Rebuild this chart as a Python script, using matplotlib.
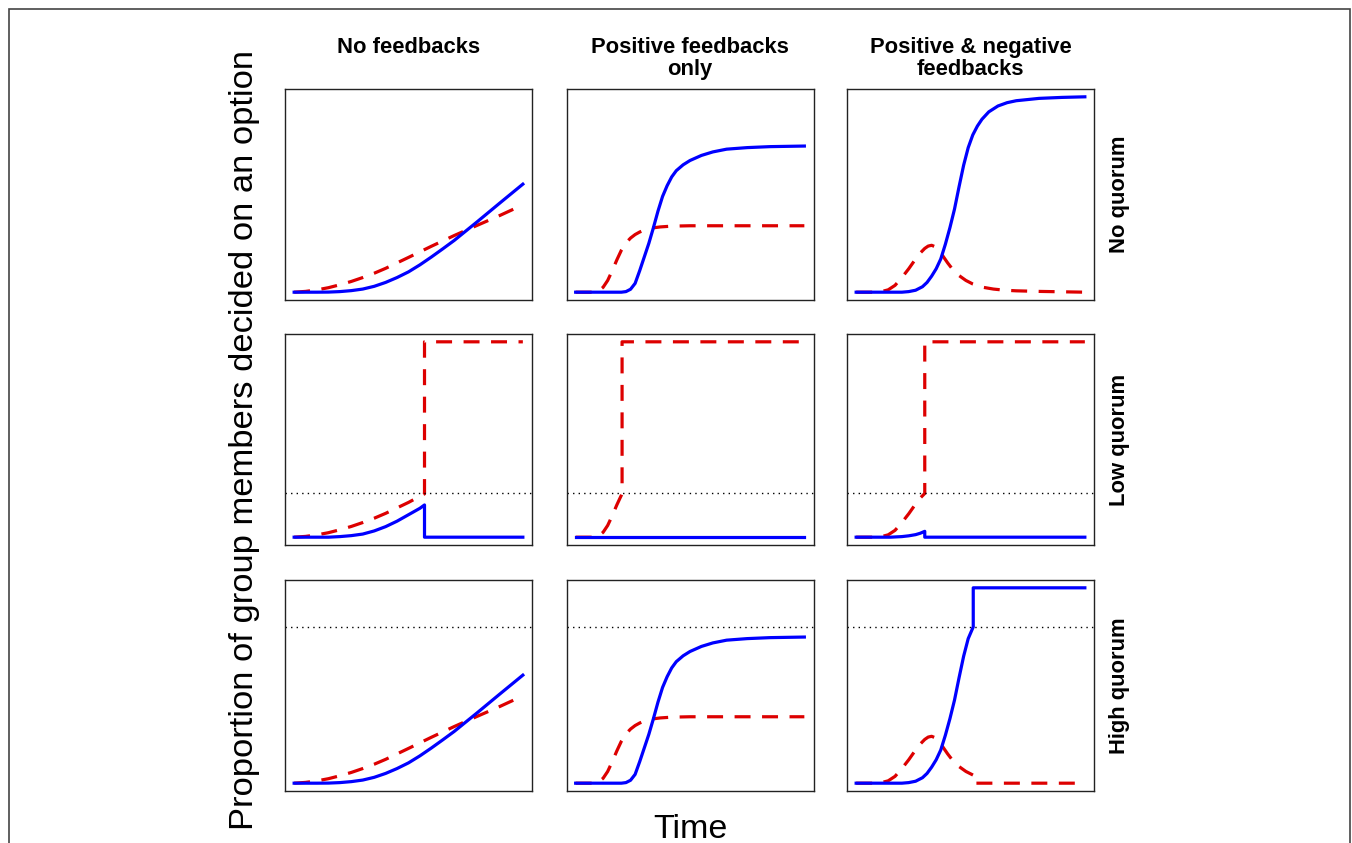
import matplotlib.pyplot as plt
from matplotlib.patches import Rectangle

plt.rcParams['font.family'] = ['Liberation Sans', 'DejaVu Sans']

col_titles = ['No feedbacks', 'Positive feedbacks\nonly',
              'Positive & negative\nfeedbacks']
row_titles = ['No quorum', 'Low quorum', 'High quorum']
quorum = [None, 0.224, 0.80]   # dotted threshold per row

# --- no feedbacks (no quorum / high quorum look the same) ---
nf_blue_t = [0, 0.1, 0.15, 0.2, 0.25, 0.3, 0.35, 0.4, 0.45, 0.5, 0.55, 0.6,
             0.65, 0.7, 0.8, 0.9, 1.0]
nf_blue_y = [0, 0, 0.0005, 0.003, 0.008, 0.016, 0.03, 0.05, 0.075, 0.104,
             0.14, 0.18, 0.222, 0.265, 0.36, 0.457, 0.553]
nf_red_t = [0, 0.05, 0.1, 0.15, 0.2, 0.25, 0.3, 0.35, 0.4, 0.5, 0.6, 0.7,
            0.8, 0.9, 1.0]
nf_red_y = [0, 0.004, 0.012, 0.023, 0.038, 0.055, 0.075, 0.097, 0.122,
            0.178, 0.235, 0.29, 0.342, 0.393, 0.447]

# --- positive feedbacks only ---
pf_blue_t = [0, 0.2, 0.22, 0.24, 0.26, 0.28, 0.3, 0.32, 0.34, 0.36, 0.38,
             0.4, 0.42, 0.44, 0.47, 0.5, 0.55, 0.6, 0.66, 0.75, 0.85, 1.0]
pf_blue_y = [0, 0, 0.003, 0.015, 0.045, 0.11, 0.18, 0.25, 0.33, 0.415, 0.49,
             0.545, 0.59, 0.622, 0.652, 0.674, 0.70, 0.718, 0.732, 0.74,
             0.745, 0.748]
pf_red_t = [0, 0.08, 0.1, 0.12, 0.14, 0.16, 0.18, 0.2, 0.22, 0.24, 0.26,
            0.28, 0.3, 0.33, 0.37, 0.42, 0.5, 1.0]
pf_red_y = [0, 0, 0.006, 0.025, 0.06, 0.11, 0.165, 0.215, 0.252, 0.277,
            0.295, 0.308, 0.318, 0.328, 0.334, 0.338, 0.34, 0.34]

# --- positive & negative feedbacks ---
pn_blue_t = [0, 0.2, 0.23, 0.26, 0.29, 0.31, 0.33, 0.35, 0.37, 0.39, 0.41,
             0.43, 0.45, 0.47, 0.49, 0.51, 0.53, 0.55, 0.58, 0.62, 0.66, 0.7,
             0.8, 0.9, 1.0]
pn_blue_y = [0, 0, 0.003, 0.01, 0.028, 0.05, 0.082, 0.12, 0.17, 0.245, 0.33,
             0.425, 0.54, 0.65, 0.74, 0.805, 0.85, 0.885, 0.923, 0.953, 0.97,
             0.98, 0.992, 0.997, 1.0]
pn_red_t = [0, 0.08, 0.11, 0.14, 0.17, 0.2, 0.23, 0.26, 0.28, 0.3, 0.315,
            0.33, 0.345, 0.36, 0.38, 0.4, 0.425, 0.45, 0.48, 0.51, 0.55, 0.6,
            0.65, 0.7, 0.8, 0.9, 1.0]
pn_red_y = [0, 0, 0.003, 0.012, 0.035, 0.075, 0.12, 0.17, 0.2, 0.224, 0.236,
            0.24, 0.233, 0.215, 0.184, 0.15, 0.112, 0.085, 0.06, 0.042, 0.026,
            0.016, 0.01, 0.007, 0.004, 0.002, 0.0]

# --- low quorum ---
lq_nf_blue_t = [0, 0.15, 0.2, 0.25, 0.3, 0.35, 0.4, 0.45, 0.5, 0.55, 0.57,
                0.57, 1.0]
lq_nf_blue_y = [0, 0, 0.003, 0.008, 0.016, 0.032, 0.054, 0.082, 0.115, 0.148,
                0.165, 0, 0]
lq_nf_red_t = [0, 0.05, 0.1, 0.15, 0.2, 0.25, 0.3, 0.35, 0.4, 0.5, 0.57,
               0.57, 1.0]
lq_nf_red_y = [0, 0.004, 0.012, 0.023, 0.038, 0.055, 0.075, 0.097, 0.122,
               0.178, 0.222, 1.0, 1.0]

lq_pf_blue_t = [0, 1.0]
lq_pf_blue_y = [0, 0]
lq_pf_red_t = [0, 0.08, 0.1, 0.12, 0.14, 0.16, 0.18, 0.2, 0.203, 0.203, 1.0]
lq_pf_red_y = [0, 0, 0.006, 0.025, 0.06, 0.11, 0.165, 0.215, 0.224, 1.0, 1.0]

lq_pn_blue_t = [0, 0.15, 0.2, 0.23, 0.26, 0.28, 0.3, 0.3, 1.0]
lq_pn_blue_y = [0, 0, 0.003, 0.007, 0.013, 0.02, 0.03, 0, 0]
lq_pn_red_t = [0, 0.08, 0.11, 0.14, 0.17, 0.2, 0.23, 0.26, 0.28, 0.3, 0.3,
               1.0]
lq_pn_red_y = [0, 0, 0.003, 0.012, 0.035, 0.075, 0.12, 0.17, 0.2, 0.224, 1.0,
               1.0]

# --- high quorum, positive & negative ---
hq_pn_blue_t = [0, 0.2, 0.23, 0.26, 0.29, 0.31, 0.33, 0.35, 0.37, 0.39,
                0.41, 0.43, 0.45, 0.47, 0.49, 0.512, 0.512, 1.0]
hq_pn_blue_y = [0, 0, 0.003, 0.01, 0.028, 0.05, 0.082, 0.12, 0.17, 0.245,
                0.33, 0.425, 0.54, 0.65, 0.74, 0.80, 1.0, 1.0]
hq_pn_red_t = [0, 0.08, 0.11, 0.14, 0.17, 0.2, 0.23, 0.26, 0.28, 0.3, 0.315,
               0.33, 0.345, 0.36, 0.38, 0.4, 0.425, 0.45, 0.48, 0.512, 0.512,
               1.0]
hq_pn_red_y = [0, 0, 0.003, 0.012, 0.035, 0.075, 0.12, 0.17, 0.2, 0.224,
               0.236, 0.24, 0.233, 0.215, 0.184, 0.15, 0.112, 0.085, 0.06,
               0.041, 0, 0]

panels = [
    [(nf_blue_t, nf_blue_y, nf_red_t, nf_red_y),
     (pf_blue_t, pf_blue_y, pf_red_t, pf_red_y),
     (pn_blue_t, pn_blue_y, pn_red_t, pn_red_y)],
    [(lq_nf_blue_t, lq_nf_blue_y, lq_nf_red_t, lq_nf_red_y),
     (lq_pf_blue_t, lq_pf_blue_y, lq_pf_red_t, lq_pf_red_y),
     (lq_pn_blue_t, lq_pn_blue_y, lq_pn_red_t, lq_pn_red_y)],
    [(nf_blue_t, nf_blue_y, nf_red_t, nf_red_y),
     (pf_blue_t, pf_blue_y, pf_red_t, pf_red_y),
     (hq_pn_blue_t, hq_pn_blue_y, hq_pn_red_t, hq_pn_red_y)],
]

W, H = 1352, 843
fig = plt.figure(figsize=(W / 100, H / 100), dpi=100)

# panel boxes in pixels
col_left = [285, 566.5, 847]
row_top = [89, 334, 580]
pw, ph = 247, 211

for r in range(3):
    for c in range(3):
        ax = fig.add_axes([col_left[c] / W, (H - row_top[r] - ph) / H,
                           pw / W, ph / H])
        bt, by, rt, ry = panels[r][c]
        ax.plot(rt, ry, color='#dd0000', lw=2.3, dashes=(5, 3.6))
        ax.plot(bt, by, color='#0000ff', lw=2.3, solid_joinstyle='round')
        if quorum[r] is not None:
            ax.axhline(quorum[r], color='black', lw=1.0,
                       linestyle=(0, (1, 3)))
        ax.set_xlim(-0.04, 1.04)
        ax.set_ylim(-0.04, 1.04)
        ax.set_xticks([])
        ax.set_yticks([])
        for s in ax.spines.values():
            s.set_linewidth(1.0)
            s.set_color('#222222')
        if r == 0:
            fig.text((col_left[c] + pw / 2) / W, (H - 37) / H, col_titles[c],
                     ha='center', va='top', fontsize=15.8,
                     fontweight='bold', linespacing=1.05)
    fig.text(1119 / W, (H - row_top[r] - ph / 2) / H, row_titles[r],
             rotation=90, ha='center', va='center', fontsize=15.8,
             fontweight='bold')

fig.text(244 / W, (H - 440) / H,
         'Proportion of group members decided on an option',
         rotation=90, ha='center', va='center', fontsize=24.8)
fig.text(690 / W, 5 / H, 'Time', ha='center', va='baseline', fontsize=24.5)

# outer frame, bottom edge runs off the image
fig.patches.append(Rectangle((9 / W, -0.1), (1350 - 9) / W,
                             (H - 9) / H + 0.1, transform=fig.transFigure,
                             fill=False, lw=1.2, edgecolor='#444444'))

fig.savefig('out.png', dpi=100)
